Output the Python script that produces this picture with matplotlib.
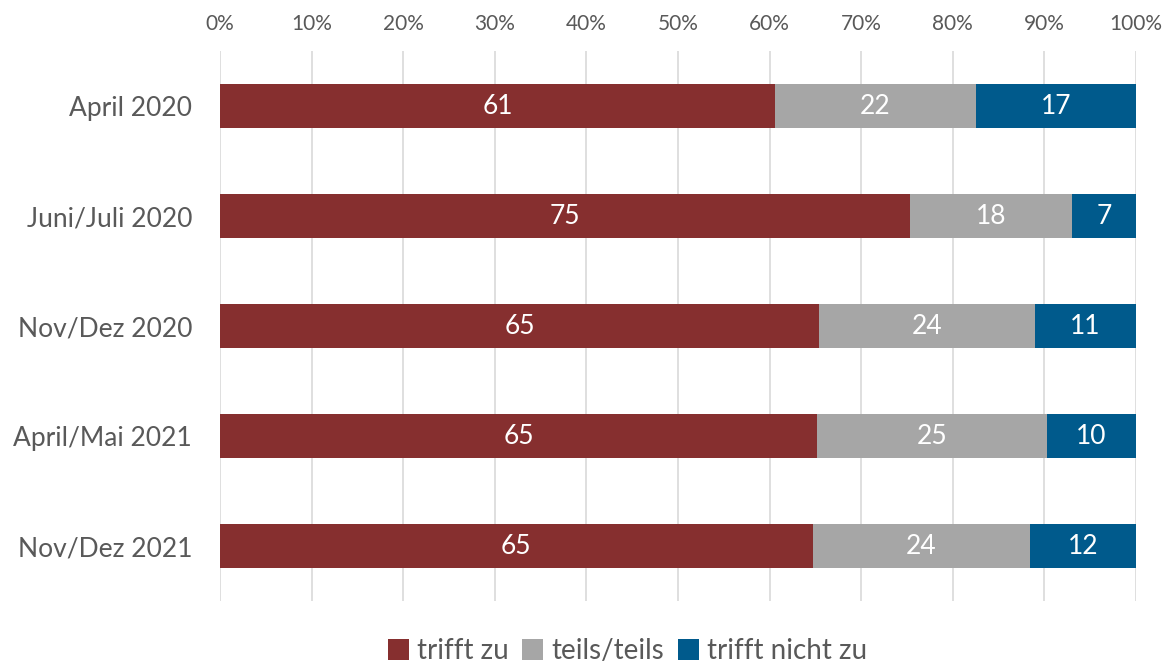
import matplotlib.pyplot as plt
import numpy as np

categories = ["April 2020", "Juni/Juli 2020", "Nov/Dez 2020", "April/Mai 2021", "Nov/Dez 2021"]
series_names = ["trifft zu", "teils/teils", "trifft nicht zu"]
trifft_zu = [60.6, 75.3, 65.4, 65.2, 64.7]
teils = [21.9, 17.7, 23.6, 25.1, 23.7]
trifft_nicht = [17.5, 7.0, 11.0, 9.7, 11.6]
labels_zu = ["61", "75", "65", "65", "65"]
labels_teils = ["22", "18", "24", "25", "24"]
labels_nicht = ["17", "7", "11", "10", "12"]

COLORS = ["#862F2F", "#A6A6A6", "#005A8C"]
TEXT = "#595959"

plt.rcParams["font.family"] = ["Lato", "DejaVu Sans"]

fig = plt.figure(figsize=(11.66, 6.62), dpi=100)
ax = fig.add_axes([220 / 1166, 1 - 601 / 662, 916 / 1166, 550 / 662])

y = np.arange(len(categories))
left = np.zeros(len(categories))
for vals, labs, color, name in zip([trifft_zu, teils, trifft_nicht],
                                   [labels_zu, labels_teils, labels_nicht],
                                   COLORS, series_names):
    bars = ax.barh(y, vals, left=left, height=0.4, color=color, label=name, zorder=3)
    ax.bar_label(bars, labels=labs, label_type="center", color="white", fontsize=19)
    left += np.array(vals)

ax.set_xlim(0, 100)
ax.set_ylim(len(categories) - 0.5, -0.5)
ax.set_xticks(np.arange(0, 101, 10))
ax.set_xticklabels([f"{v}%" for v in range(0, 101, 10)])
ax.xaxis.tick_top()
ax.tick_params(axis="x", length=0, pad=12, labelsize=15, labelcolor=TEXT)
ax.set_yticks(y)
ax.set_yticklabels(categories)
ax.tick_params(axis="y", length=0, pad=20, labelsize=19, labelcolor=TEXT)
ax.grid(axis="x", color="#D9D9D9", linewidth=1.2, zorder=0)
for s in ax.spines.values():
    s.set_visible(False)

# legend sits a bit left of the plot centre, like the original
ax.legend(loc="lower center", bbox_to_anchor=(0.445, -0.135), ncol=3, frameon=False,
          fontsize=20, handlelength=0.75, handleheight=0.75, handletextpad=0.3,
          columnspacing=0.5, labelcolor=TEXT, borderaxespad=0)

fig.savefig("out.png", dpi=100)
